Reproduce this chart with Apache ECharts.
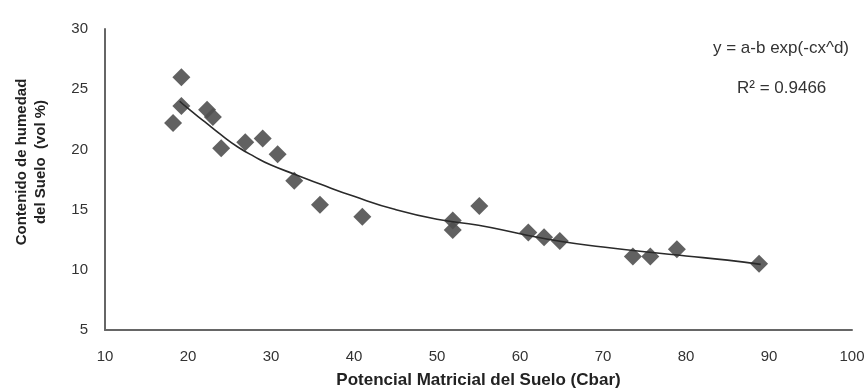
<!DOCTYPE html>
<html>
<head>
<meta charset="utf-8">
<script src="https://cdn.jsdelivr.net/npm/echarts@6/dist/echarts.min.js"></script>
<style>html,body{margin:0;padding:0;background:#fff}#c{width:868px;height:390px}</style>
</head>
<body>
<div id="c"></div>
<script>
// Observed points (Potencial matricial, Contenido de humedad)
const obsX = [18.2, 19.2, 19.2, 22.3, 23.0, 24.0, 26.9, 29.0, 30.8, 32.8, 35.9, 41.0, 51.9, 51.9, 55.1, 61.0, 62.9, 64.8, 73.6, 75.7, 78.9, 88.8];
const obsY = [22.2, 26.0, 23.6, 23.3, 22.7, 20.1, 20.6, 20.9, 19.6, 17.4, 15.4, 14.4, 14.1, 13.3, 15.3, 13.1, 12.7, 12.4, 11.1, 11.1, 11.7, 10.5];
// Fitted curve
const fitX = [19, 20, 22, 24, 26, 28, 30, 33, 36, 40, 45, 50, 55, 60, 65, 70, 75, 80, 85, 89];
const fitY = [24.0, 23.4, 22.3, 21.2, 20.2, 19.4, 18.7, 17.9, 17.1, 16.1, 15.0, 14.2, 13.7, 13.0, 12.35, 11.9, 11.5, 11.15, 10.8, 10.45];
const xTicks = [10, 20, 30, 40, 50, 60, 70, 80, 90, 100];
const yTicks = [5, 10, 15, 20, 25, 30];
const xTitle = 'Potencial Matricial del Suelo (Cbar)';
const yTitle = 'Contenido de humedad\ndel Suelo  (vol %)';
const equationText = 'y = a-b exp(-cx^d)';
const r2Text = 'R² = 0.9466';

const FONT = '"Liberation Sans", Arial, sans-serif';
const chart = echarts.init(document.getElementById('c'), null, {renderer: 'canvas'});
chart.setOption({
  animation: false,
  backgroundColor: '#fff',
  grid: {left: 105, right: 16, top: 29, bottom: 60, containLabel: false, outerBoundsMode: 'none'},
  xAxis: {
    type: 'value', min: xTicks[0], max: xTicks[xTicks.length - 1], interval: 10,
    axisLine: {show: true, lineStyle: {color: '#666', width: 2}},
    axisTick: {show: false}, splitLine: {show: false},
    axisLabel: {margin: 19, fontFamily: FONT, fontSize: 15, color: '#333'},
    name: xTitle, nameLocation: 'middle', nameGap: 42,
    nameTextStyle: {fontFamily: FONT, fontSize: 17, fontWeight: 'bold', color: '#222'}
  },
  yAxis: {
    type: 'value', min: yTicks[0], max: yTicks[yTicks.length - 1], interval: 5,
    axisLine: {show: true, lineStyle: {color: '#666', width: 2}},
    axisTick: {show: false}, splitLine: {show: false},
    axisLabel: {margin: 17, fontFamily: FONT, fontSize: 15, color: '#333'}
  },
  series: [
    {
      type: 'line', data: fitX.map((x, i) => [x, fitY[i]]), smooth: true, symbol: 'none',
      lineStyle: {color: '#2a2a2a', width: 1.6}, z: 3
    },
    {
      type: 'scatter', data: obsX.map((x, i) => [x, obsY[i]]), symbol: 'diamond', symbolSize: 18,
      itemStyle: {color: '#505050', opacity: 0.9}, z: 2
    }
  ],
  graphic: [
    {type: 'text', x: 31, y: 162, rotation: Math.PI / 2,
     style: {text: yTitle, font: 'bold 15px ' + FONT, fill: '#222', align: 'center', verticalAlign: 'middle', lineHeight: 19}},
    {type: 'text', left: 713, top: 40, style: {text: equationText, font: '17px ' + FONT, fill: '#333'}},
    {type: 'text', left: 737, top: 80, style: {text: r2Text, font: '17px ' + FONT, fill: '#333'}}
  ]
});
</script>
</body>
</html>
